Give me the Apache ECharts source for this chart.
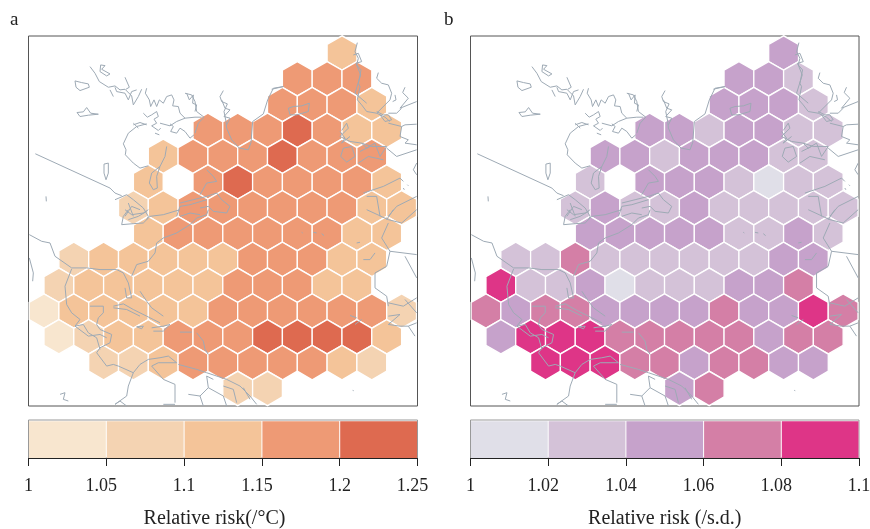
<!DOCTYPE html>
<html><head><meta charset="utf-8">
<style>html,body{margin:0;padding:0;background:#fff}#c{width:870px;height:529px}</style>
<script src="https://cdn.jsdelivr.net/npm/echarts@6/dist/echarts.min.js"></script></head>
<body><div id="c"></div>
<script>
// hex bins: row index, first half-column of the row
const rowFirstCol=[20,17,16,11,8,7,6,7,2,1,0,1,4,13];
// relative risk per hex, left to right (every 2 half-columns); null = no data
const riskTemp=[
[1.125],
[1.175,1.175,1.175],
[1.175,1.175,1.175,1.125],
[1.175,1.175,1.175,1.225,1.175,1.125,1.125],
[1.125,1.175,1.175,1.175,1.225,1.175,1.175,1.175],
[1.125,null,1.175,1.225,1.175,1.175,1.175,1.175,1.125],
[1.075,1.125,1.175,1.175,1.175,1.175,1.175,1.175,1.125,1.125],
[1.125,1.175,1.175,1.175,1.175,1.175,1.175,1.125,1.125],
[1.075,1.125,1.125,1.125,1.125,1.125,1.175,1.175,1.175,1.125,1.125],
[1.075,1.125,1.125,1.125,1.125,1.125,1.175,1.175,1.175,1.125,1.125],
[1.025,1.125,1.125,1.125,1.125,1.125,1.175,1.175,1.175,1.175,1.175,1.175,1.075],
[1.025,1.075,1.125,1.125,1.175,1.175,1.175,1.225,1.225,1.225,1.225,1.125],
[1.075,1.075,1.125,1.175,1.175,1.175,1.175,1.175,1.125,1.075],
[1.075,1.075]];
const riskSd=[
[1.05],
[1.05,1.05,1.03],
[1.05,1.05,1.05,1.03],
[1.05,1.05,1.03,1.05,1.05,1.03,1.03],
[1.05,1.05,1.03,1.05,1.05,1.05,1.03,1.03],
[1.03,null,1.05,1.05,1.05,1.03,1.01,1.03,1.03],
[1.03,1.05,1.03,1.03,1.05,1.03,1.03,1.03,1.03,1.03],
[1.05,1.05,1.05,1.05,1.05,1.03,1.03,1.05,1.03],
[1.03,1.03,1.07,1.03,1.03,1.03,1.03,1.03,1.03,1.05,1.05],
[1.09,1.03,1.03,1.05,1.01,1.03,1.03,1.03,1.05,1.05,1.07],
[1.07,1.05,1.07,1.07,1.05,1.05,1.05,1.05,1.07,1.05,1.05,1.09,1.07],
[1.05,1.09,1.09,1.09,1.07,1.07,1.07,1.07,1.07,1.05,1.07,1.07],
[1.09,1.09,1.09,1.07,1.07,1.05,1.07,1.07,1.05,1.05],
[1.05,1.07]];
const ticksTemp=[1,1.05,1.1,1.15,1.2,1.25];
const ticksSd=[1,1.02,1.04,1.06,1.08,1.1];
const colorsTemp=['#F8E6CF','#F4D3B2','#F4C499','#EE9A75','#DE6A50'];
const colorsSd=['#E0DFE8','#D4C2D8','#C6A2CB','#D47FA6','#DE3587'];
// coastlines, traced in map units
const coastNorth=[
[[106,462],[330,565],[345,580],[365,588]],
[[440,372],[410,380],[385,400],[370,432],[378,450],[376,465],[400,490],[420,505],[445,498]],
[[500,440],[495,470],[480,500],[455,520],[448,550],[460,570],[472,565],[470,530],[480,500]],
[[312,493],[325,490],[325,520],[318,540],[312,520],[312,493]],
[[138,590],[139,605]],
[[270,200],[285,220],[298,245],[325,262],[345,258],[360,270],[375,268],[395,288],[400,315],[415,290],[425,268]],
[[302,195],[315,197],[305,208],[330,222],[320,228],[300,215],[302,195]],
[[375,232],[388,262],[378,268]],
[[225,243],[245,248],[265,252],[268,262],[240,272],[228,262],[225,243]],
[[231,338],[250,336],[260,323],[272,340],[295,343],[265,346],[240,350],[231,338]],
[[440,265],[436,280],[448,300],[452,320],[462,300],[470,320],[478,300],[490,310],[500,290],[515,285],[522,300],[518,318],[535,320],[540,340],[555,355],[585,352],[605,352]],
[[430,340],[442,352],[455,345],[470,335],[475,350],[462,358],[470,370],[455,378],[475,392],[482,385]],
[[480,370],[510,378],[530,365],[555,355]],
[[400,370],[415,385]],
[[400,375],[420,368],[440,375]],
[[510,372],[520,380],[512,395],[530,400],[540,385],[555,395],[570,415],[582,405]],
[[465,400],[478,405]],
[[555,280],[575,285],[585,305],[590,335],[612,352],[595,370],[585,400]],
[[560,280],[568,300],[580,285],[578,310],[590,315],[585,335]],
[[345,262],[350,275],[375,280],[385,300],[395,275],[410,270]],
[[330,270],[340,290]],
[[670,272],[660,290],[665,305],[682,312],[672,335],[678,365],[680,385],[695,420],[718,445],[745,450],[753,428],[758,365],[790,342],[803,300],[820,265],[850,260],[815,268]],
[[665,300],[675,325],[690,330],[672,350],[690,355],[680,375]],
[[865,325],[880,320],[905,318],[928,310],[925,335],[890,345],[870,345],[865,325]],
[[1072,128],[1065,155],[1075,175],[1070,195],[1083,210],[1075,250],[1080,260],[1072,300],[1085,315],[1100,335],[1130,340],[1155,352],[1170,365]],
[[1060,165],[1075,160],[1085,185],[1068,190],[1082,225],[1065,280],[1100,310]],
[[1130,335],[1150,345],[1165,345],[1175,360],[1155,365],[1140,345]],
[[1135,218],[1130,235],[1145,250],[1165,255],[1175,280],[1170,300],[1130,340]],
[[1185,285],[1188,300],[1178,305]],
[[1215,262],[1208,278],[1225,295],[1200,325],[1250,305]],
[[1165,340],[1190,340],[1205,325]],
[[1165,370],[1205,380],[1215,375],[1250,373]],
[[1205,380],[1200,410],[1225,420],[1215,430],[1250,435]],
[[1025,392],[1040,370],[1045,385],[1020,410],[1050,425],[1085,430],[1115,440],[1160,440]],
[[1020,395],[1035,415],[1025,430],[1050,410]],
[[1030,445],[1055,440],[1065,470],[1040,487],[1022,470],[1030,445]],
[[1080,455],[1110,440]],
[[1085,430],[1100,445],[1125,430],[1140,470],[1160,440]],
[[1075,490],[1105,470],[1150,480]],
[[1160,445],[1190,470],[1250,450]],
[[1250,490],[1240,510],[1250,525]],
[[1090,580],[1150,560],[1200,535],[1210,545]],
[[1100,590],[1130,590],[1140,650]],
[[1165,650],[1190,620],[1250,590]],
[[1210,565],[1213,570]],[[1222,555],[1225,558]],
[[620,510],[640,530],[650,545],[620,550],[600,585]],
[[540,610],[580,600],[620,590],[650,580],[665,600],[690,620],[680,640],[640,635],[625,620],[600,625]],
[[345,600],[380,585],[400,600],[430,625],[445,650],[440,660]],
[[375,650],[395,620],[420,630]],
[[385,610],[400,650]],
[[530,650],[540,620],[570,615],[620,600]]];
const coastSouth=[
[[365,45],[370,20],[385,0]],
[[375,0],[395,15],[430,10],[445,0]],
[[385,30],[415,20],[440,5]],
[[365,45],[400,42],[430,40],[450,20],[490,15],[540,0]],
[[395,200],[410,165],[445,155],[465,130],[470,100],[490,85],[530,70],[570,45],[590,25],[620,15],[625,0]],
[[540,20],[570,10],[600,15]],
[[88,75],[125,95],[150,100],[165,140],[215,175],[260,175],[300,180],[350,180],[370,190],[385,220],[395,265],[380,265],[375,235]],
[[215,178],[195,230],[200,285],[215,310],[240,330],[225,350],[250,345]],
[[250,345],[265,370],[290,385],[300,420]],
[[225,350],[265,380],[300,375],[320,385]],
[[270,290],[310,290],[310,310],[295,325],[290,345],[300,360],[335,375],[330,400],[300,415],[290,430],[320,470],[340,465],[355,470],[400,490]],
[[88,145],[100,190],[98,215]],
[[340,290],[370,283],[400,300],[440,320],[460,330],[480,340]],
[[340,295],[380,300],[420,320]],
[[455,355],[490,350],[510,345],[490,365],[460,365]],
[[410,352],[430,350],[425,358],[410,352]],
[[540,368],[575,368]],
[[590,370],[610,395],[615,420],[625,435]],
[[420,245],[440,275],[455,295],[490,320]],
[[400,490],[420,465],[445,450],[480,445],[505,440],[530,460],[535,465],[475,460],[455,470],[490,510],[525,525],[525,580]],
[[535,465],[590,480],[620,490],[680,510],[720,530],[750,560],[770,585]],
[[400,490],[385,530],[380,560],[345,585]],
[[345,585],[360,575],[380,590]],
[[490,585],[525,585]],
[[565,555],[600,560],[625,535],[620,500],[640,510]],
[[600,560],[610,590]],
[[625,535],[670,560],[680,590]],
[[670,530],[700,540],[710,580]],
[[730,535],[750,570]],
[[180,555],[195,550],[190,570],[205,575]],
[[1058,543],[1061,544]],
[[905,68],[908,70]],[[940,68],[950,70]],[[965,72],[972,78]],
[[1070,100],[1080,98]],
[[1090,150],[1110,150],[1125,130]],
[[1050,318],[1070,325]],
[[1065,345],[1085,330]],
[[1165,40],[1145,85],[1170,125],[1160,170],[1125,190],[1125,235],[1160,260],[1165,290]],
[[1170,125],[1250,135]],
[[1215,140],[1250,205]],
[[1165,320],[1200,315],[1165,345],[1200,350],[1225,350],[1245,380]],
[[1165,280],[1210,290],[1250,265]],
[[1215,270],[1250,310]],
[[1225,350],[1250,340]],
[[1100,0],[1165,30],[1205,40],[1250,0]],
[[1160,30],[1180,0]]];
const southShift=630;
const coast=coastNorth.concat(coastSouth.map(l=>l.map(p=>[p[0],p[1]+southShift])));

const colStep=44.7,rowStep=77.55,colZero=132,rowZero=159;
const hexPath='path://M0,-2L1.732,-1L1.732,1L0,2L-1.732,1L-1.732,-1Z';
const FONT='"Liberation Serif",serif';
const labelFont={fontFamily:FONT,fontSize:18,color:'#222'};
function cells(risk){const out=[];risk.forEach((vals,r)=>vals.forEach((v,i)=>{
  if(v!==null)out.push([colZero+(rowFirstCol[r]+2*i)*colStep,rowZero+r*rowStep,v]);}));return out;}
function bands(ticks){return ticks.slice(0,-1).map((t,i)=>[t,ticks[i+1],i]);}

const panels=[
 {left:28.5,width:389,risk:riskTemp,ticks:ticksTemp,step:0.05,colors:colorsTemp,name:'Relative risk(/°C)',pad:[0,17,0,0]},
 {left:470.5,width:388.5,risk:riskSd,ticks:ticksSd,step:0.02,colors:colorsSd,name:'Relative risk (/s.d.)',pad:[0,0,0,0]}];
const grid=[],xAxis=[],yAxis=[],series=[],visualMap=[];
panels.forEach((p,n)=>{
  const g=n*2;
  grid.push({left:p.left,width:p.width,top:36,height:370,show:true,borderColor:'#555',borderWidth:1,backgroundColor:'#fff',outerBoundsMode:'none'});
  grid.push({left:p.left,width:p.width,top:420,height:38,show:true,borderColor:'#999',borderWidth:1,outerBoundsMode:'none'});
  xAxis.push({gridIndex:g,type:'value',min:85.5,max:1252.5,show:false});
  yAxis.push({gridIndex:g,type:'value',min:108,max:1220,inverse:true,show:false});
  const lo=p.ticks[0],hi=p.ticks[p.ticks.length-1];
  xAxis.push({gridIndex:g+1,type:'value',min:lo,max:hi,interval:p.step,
    splitLine:{show:false},axisLine:{show:true,onZero:false,lineStyle:{color:'#222',width:1}},
    axisTick:{show:true,length:8,lineStyle:{color:'#222',width:1}},
    axisLabel:{color:'#222',fontFamily:FONT,fontSize:18,margin:19,showMinLabel:true,showMaxLabel:true,hideOverlap:false,
      rich:{wide:{...labelFont,padding:[0,10,0,0]},plain:labelFont},
      formatter:v=>{const s=String(+v.toFixed(2));
        return (s.length===4?'{wide|':'{plain|')+s+'}';}},
    name:p.name,nameLocation:'middle',nameGap:51,
    nameTextStyle:{color:'#222',fontFamily:FONT,fontSize:20,padding:p.pad}});
  yAxis.push({gridIndex:g+1,type:'value',min:0,max:1,show:false});
  const sIdx=series.length;
  series.push({type:'scatter',xAxisIndex:g,yAxisIndex:g,data:cells(p.risk),symbol:hexPath,symbolSize:[29.8,34.4],
    encode:{x:0,y:1},itemStyle:{borderColor:'#fff',borderWidth:1.4,opacity:1},silent:true,animation:false,z:2});
  visualMap.push({show:false,type:'piecewise',seriesIndex:sIdx,dimension:2,
    pieces:p.colors.map((c,i)=>({gte:p.ticks[i],lt:p.ticks[i+1],color:c}))});
  coast.forEach(l=>series.push({type:'line',xAxisIndex:g,yAxisIndex:g,data:l,showSymbol:false,silent:true,animation:false,z:3,
    lineStyle:{color:'#9EAAB5',width:1},itemStyle:{color:'#9EAAB5'},clip:true}));
  series.push({type:'custom',xAxisIndex:g+1,yAxisIndex:g+1,data:bands(p.ticks),encode:{x:[0,1]},silent:true,animation:false,z:2,
    renderItem:(params,api)=>{
      const a=api.coord([api.value(0),0.97]),b=api.coord([api.value(1),0]);
      return {type:'rect',shape:{x:a[0]+0.5,y:a[1],width:b[0]-a[0]-1,height:b[1]-a[1]},style:{fill:p.colors[api.value(2)]}};
    }});
});
const chart=echarts.init(document.getElementById('c'),null,{renderer:'canvas'});
chart.setOption({animation:false,backgroundColor:'#fff',grid,xAxis,yAxis,series,visualMap,
  title:[{text:'a',left:5,top:6,textStyle:{fontFamily:FONT,fontSize:19,fontWeight:'normal',color:'#222'}},
         {text:'b',left:439,top:6,textStyle:{fontFamily:FONT,fontSize:19,fontWeight:'normal',color:'#222'}}]});
</script></body></html>
